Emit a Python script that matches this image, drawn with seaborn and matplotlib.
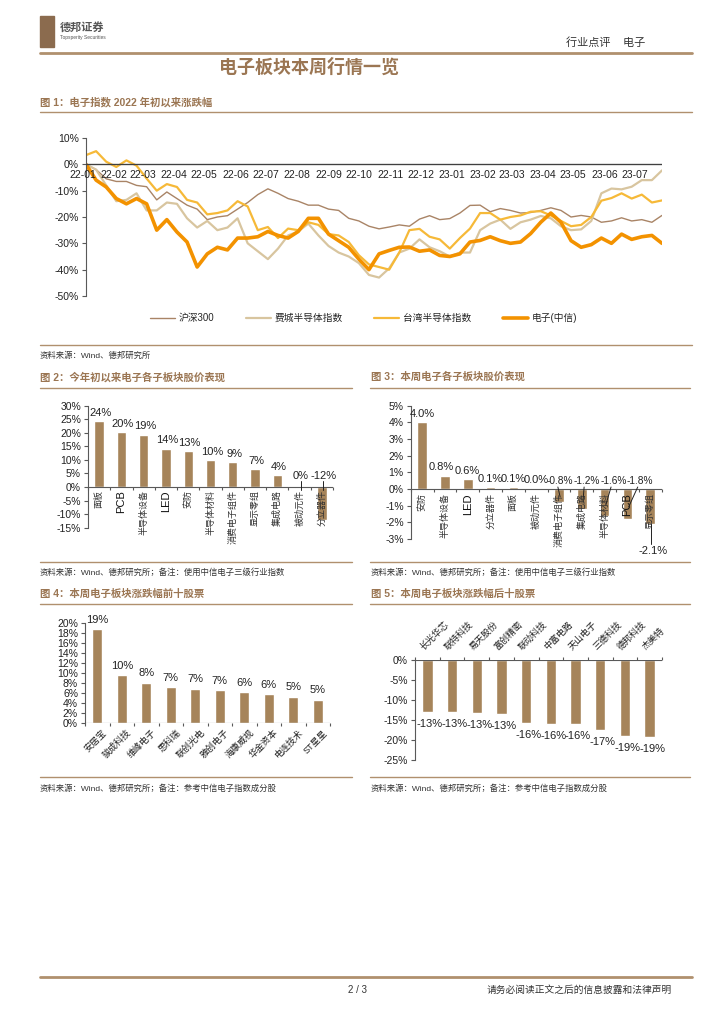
import numpy as np
import pandas as pd
import matplotlib
matplotlib.use("Agg")
import matplotlib.pyplot as plt
import seaborn as sns
from matplotlib.lines import Line2D
from matplotlib.patches import Rectangle

sns.set_theme(style="white")
plt.rcParams["font.family"] = ["Liberation Sans", "Noto Sans CJK SC"]
plt.rcParams["axes.unicode_minus"] = False

# ---------------- data ----------------
line_dates = pd.date_range("2022-01-04", periods=58, freq="10D")
month_ticks = pd.date_range("2022-01-01", "2023-07-01", freq="MS")
month_labels = [d.strftime("%y-%m") for d in month_ticks]

hs300 = [0, -2, -5.5, -6.5, -6.5, -8, -8.5, -13.5, -10.5, -13, -15.5, -17, -21, -20, -19.5,
         -17, -14.5, -11.5, -9.3, -11, -13, -14, -15.5, -15.5, -17, -17.5, -20.5, -21.5, -23.5, -24.5,
         -23.8, -23, -23.5, -20.8, -19.5, -21, -20.6, -18.5, -15.6, -15.5, -18, -16.8, -17.5, -18.5,
         -18.3, -17.5, -16.5, -17.5, -20, -19.4, -20, -22, -21.5, -20.3, -21.5, -21, -22, -19.4]
phlx = [0, -2, -8, -14, -13.5, -11, -17.5, -17.5, -14.5, -15, -20.5, -24, -21.5, -25, -24,
        -20.5, -30, -33, -36, -32, -27, -25.5, -22.5, -27, -31, -33.5, -35, -37.5, -42, -43,
        -39.5, -33.5, -32, -28.5, -31.5, -33, -35, -33.5, -33.5, -25, -22.5, -21, -24.5, -22,
        -21, -19.6, -20.5, -23.5, -25, -24.7, -21.5, -11, -9.2, -9.5, -8.5, -6, -6, -2.3]
twse = [3.5, 5, 1, -1, 1.5, -0.5, -5.4, -10, -7.5, -8.6, -13.5, -14.5, -19, -18.5, -17.5,
        -14, -16, -25, -23.8, -28, -24.4, -25, -22, -23, -26.5, -27, -29.5, -34.5, -38, -39,
        -40, -33.5, -25, -24.5, -27.5, -28.5, -32, -28, -24.4, -18.5, -18.5, -21, -20, -19.4,
        -18, -17.8, -19.4, -21.5, -23.5, -23, -20, -13.8, -12.8, -11, -13, -11.5, -14.5, -13.7]
elec = [0, -6, -8.6, -13, -15, -13, -15, -25, -21, -25.7, -29.5, -39, -34, -31.5, -32.5,
        -28, -28, -27.5, -25.5, -27, -28, -25.5, -20.5, -20.5, -26.5, -29, -31.5, -36, -40, -34,
        -32.7, -31.5, -31.4, -33, -32.5, -34.6, -35, -34, -29.5, -28.9, -27.5, -29, -30, -29.5,
        -26.3, -22, -18.5, -22, -29, -31.5, -30.5, -28, -30, -26.5, -28.5, -27.5, -27, -30]
line_names = ["沪深300", "费城半导体指数", "台湾半导体指数", "电子(中信)"]

cats2 = ["面板", "PCB", "半导体设备", "LED", "安防", "半导体材料", "消费电子组件",
         "显示零组", "集成电路", "被动元件", "分立器件"]
vals2 = [24.3, 20.2, 19.3, 14.2, 13.2, 9.9, 9.1, 6.6, 4.3, -0.3, -12.3]

cats3 = ["安防", "半导体设备", "LED", "分立器件", "面板", "被动元件", "消费电子组件",
         "集成电路", "半导体材料", "PCB", "显示零组"]
vals3 = [4.0, 0.8, 0.6, 0.1, 0.1, 0.04, -0.8, -1.2, -1.6, -1.8, -2.1]

cats4 = ["安居宝", "骏成科技", "维峰电子", "思科瑞", "联创光电", "雅创电子", "海康威视",
         "华金资本", "电连技术", "ST星星"]
vals4 = [18.8, 9.6, 8.1, 7.2, 6.9, 6.6, 6.2, 5.8, 5.3, 4.7]

cats5 = ["长光华芯", "联特科技", "易天股份", "富创精密", "联动科技", "中富电路", "天山电子",
         "三德科技", "德邦科技", "杰美特"]
vals5 = [-12.9, -13.0, -13.3, -13.4, -15.7, -15.9, -16.0, -17.4, -19.0, -19.3]

# ---------------- style ----------------
W, H = 724, 1024
BROWN = "#9B7653"
RULE = "#B0906E"
BAR = "#A6845A"
AX = "#595959"
C_HS, C_PH, C_TW, C_EL = "#A98466", "#D8C59F", "#F6B938", "#F39200"

fig = plt.figure(figsize=(W / 100, H / 100), dpi=100)
fig.patch.set_facecolor("white")


def frect(x0, y0, x1, y1):
    return [x0 / W, 1 - y1 / H, (x1 - x0) / W, (y1 - y0) / H]


def ftext(x, y, s, **kw):
    fig.text(x / W, 1 - y / H, s, **kw)


def fline(x0, x1, y, lw=1.0, color=RULE):
    fig.add_artist(Line2D([x0 / W, x1 / W], [1 - y / H, 1 - y / H], lw=lw, color=color,
                          transform=fig.transFigure))


# ---------------- page furniture ----------------
fig.add_artist(Rectangle((40 / W, 1 - 47 / H), 14 / W, 31 / H, color="#8B6B4E",
                         transform=fig.transFigure))
ftext(60, 27, "德邦证券", fontsize=8, fontweight="bold", color="#555555", va="center")
ftext(60, 38, "Topsperity Securities", fontsize=3.5, color="#555555", va="center")
ftext(566, 43, "行业点评    电子", fontsize=8, color="#333333", va="center")
fline(40, 692, 53, lw=2.0)
ftext(309, 68, "电子板块本周行情一览", fontsize=13, fontweight="bold", color=BROWN,
      ha="center", va="center")

ftext(40, 102, "图 1：电子指数 2022 年初以来涨跌幅", fontsize=7.5, fontweight="bold",
      color=BROWN, va="center")
fline(40, 692, 112, lw=1.0)
fline(40, 692, 345, lw=1.0)
ftext(40, 356, "资料来源：Wind、德邦研究所", fontsize=6, color="#333333", va="center")

ftext(40, 377, "图 2：今年初以来电子各子板块股价表现", fontsize=7.5, fontweight="bold",
      color=BROWN, va="center")
fline(40, 352, 388)
fline(40, 352, 562)
ftext(40, 573, "资料来源：Wind、德邦研究所；备注：使用中信电子三级行业指数", fontsize=6,
      color="#333333", va="center")

ftext(371, 377, "图 3：本周电子各子板块股价表现", fontsize=7.5, fontweight="bold",
      color=BROWN, va="center")
fline(370, 690, 388)
fline(370, 690, 562)
ftext(371, 573, "资料来源：Wind、德邦研究所；备注：使用中信电子三级行业指数", fontsize=6,
      color="#333333", va="center")

ftext(40, 594, "图 4：本周电子板块涨跌幅前十股票", fontsize=7.5, fontweight="bold",
      color=BROWN, va="center")
fline(40, 352, 604)
fline(40, 352, 777)
ftext(40, 789, "资料来源：Wind、德邦研究所；备注：参考中信电子指数成分股", fontsize=6,
      color="#333333", va="center")

ftext(371, 594, "图 5：本周电子板块涨跌幅后十股票", fontsize=7.5, fontweight="bold",
      color=BROWN, va="center")
fline(370, 690, 604)
fline(370, 690, 777)
ftext(371, 789, "资料来源：Wind、德邦研究所；备注：参考中信电子指数成分股", fontsize=6,
      color="#333333", va="center")

fline(40, 692, 977, lw=2.0)
ftext(357, 990, "2 / 3", fontsize=7, color="#333333", ha="center", va="center")
ftext(672, 990, "请务必阅读正文之后的信息披露和法律声明", fontsize=7, color="#333333",
      ha="right", va="center")


# ---------------- helpers ----------------
def base_axes(ax, ylim, yticks):
    ax.set_ylim(*ylim)
    ax.set_yticks(yticks)
    ax.set_yticklabels([f"{t:g}%" for t in yticks], fontsize=7.5, color="#222222")
    for s in ["top", "right", "bottom"]:
        ax.spines[s].set_visible(False)
    ax.spines["left"].set_color(AX)
    ax.spines["left"].set_linewidth(0.8)
    ax.tick_params(axis="y", left=True, length=3, width=0.8, color=AX, pad=2)
    ax.tick_params(axis="x", bottom=False, labelbottom=False)
    ax.set_xlabel("")
    ax.set_ylabel("")
    ax.grid(False)
    ax.set_facecolor("none")
    ax.axhline(0, color=AX, lw=0.8, zorder=3)


# ---------------- Fig 1: lines ----------------
ax1 = fig.add_axes(frect(86, 138, 662, 296))
series = [(hs300, C_HS, 1.0), (phlx, C_PH, 1.6), (twse, C_TW, 1.6), (elec, C_EL, 2.6)]
for (vals, col, lw), name in zip(series, line_names):
    sns.lineplot(x=line_dates, y=vals, ax=ax1, color=col, linewidth=lw, label=name, legend=False)
ax1.set_xlim(line_dates[0], line_dates[-1])
base_axes(ax1, (-50, 10), list(range(-50, 11, 10)))
ax1.axhline(0, color="#404040", lw=0.9, zorder=3)
for d, lab in zip(month_ticks, month_labels):
    ax1.annotate(lab, (d, 0), xytext=(0, -4), textcoords="offset points", ha="center",
                 va="top", fontsize=7.5, color="#222222", annotation_clip=False)
handles = [Line2D([], [], color=c, lw=lw) for (_, c, lw) in series]
fig.legend(handles, line_names, loc="center", bbox_to_anchor=(0.502, 1 - 318 / H), ncol=4,
           frameon=False, fontsize=7, handlelength=2.6, columnspacing=3.2, handletextpad=0.4)


def bar_axes(rect, cats, vals, ylim, yticks, px_h):
    ax = fig.add_axes(rect)
    sns.barplot(x=cats, y=vals, color=BAR, saturation=1, width=0.42, ax=ax, zorder=2)
    n = len(cats)
    ax.set_xlim(-0.5, n - 0.5)
    base_axes(ax, ylim, yticks)
    unit = (ylim[1] - ylim[0]) / px_h  # data units per pixel
    return ax, unit


# ---------------- Fig 2 ----------------
ax2, u2 = bar_axes(frect(88, 405.7, 333, 527.7), cats2, vals2, (-15, 30),
                   list(range(-15, 31, 5)), 122)
n2 = len(cats2)
ax2.vlines(np.arange(n2 + 1) - 0.5, -3 * u2, 0, color=AX, lw=0.8, clip_on=False, zorder=3)
for i, (c, v) in enumerate(zip(cats2, vals2)):
    latin = c.isascii()
    ax2.text(i, -3 * u2, c, rotation=90, ha="center", va="top",
             fontsize=8 if latin else 6.5, color="#111111" if latin else "#333333", zorder=4)
    ax2.annotate(f"{round(v):d}%", (i, max(v, 0)), xytext=(1, 4 if v < 0 else 2.5),
                 textcoords="offset points", ha="center", va="bottom", fontsize=8,
                 color="#222222", annotation_clip=False)
    if v < 0:
        ax2.plot([i + 0.05, i + 0.05], [6 * u2, -3 * u2], color="#222222", lw=0.7, zorder=4)

# ---------------- Fig 3 ----------------
ax3, u3 = bar_axes(frect(410.7, 405.7, 661.7, 539), cats3, vals3, (-3, 5),
                   list(range(-3, 6, 1)), 133.3)
n3 = len(cats3)
label_dx3 = [0, -0.15, 0, 0, 0, 0, 0.05, 0.2, 0.38, 0.55, 0]
label_below3 = [False] * 10 + [True]
ax3.vlines(np.arange(n3 + 1) - 0.5, -3 * u3, 0, color=AX, lw=0.8, clip_on=False, zorder=3)
for i, (c, v) in enumerate(zip(cats3, vals3)):
    latin = c.isascii()
    ax3.text(i, -4 * u3, c, rotation=90, ha="center", va="top",
             fontsize=8 if latin else 6.5, color="#111111" if latin else "#333333", zorder=4)
    lab = f"{v:.1f}%"
    if label_below3[i]:
        ax3.annotate(lab, (i + 0.1, v), xytext=(0, -16), textcoords="offset points",
                     ha="center", va="top", fontsize=8, color="#222222", annotation_clip=False)
        ax3.plot([i + 0.05, i + 0.05], [v, v - 20 * u3], color="#222222", lw=0.7,
                 clip_on=False, zorder=4)
    else:
        fs = 8 if v >= 0 else 7.3
        ax3.annotate(lab, (i + label_dx3[i], max(v, 0)), xytext=(0, 2.5),
                     textcoords="offset points", ha="center", va="bottom", fontsize=fs,
                     color="#222222", annotation_clip=False)
        if v < 0:
            ax3.plot([i + label_dx3[i] - 0.1, i + 0.05], [2 * u3, max(v * 0.6, v + 0.3)],
                     color="#222222", lw=0.7, zorder=4)

# ---------------- Fig 4 ----------------
ax4, u4 = bar_axes(frect(85, 623, 330, 723), cats4, vals4, (0, 20), list(range(0, 21, 2)), 100)
n4 = len(cats4)
ax4.vlines(np.arange(n4 + 1) - 0.5, -3 * u4, 0, color=AX, lw=0.8, clip_on=False, zorder=3)
for i, (c, v) in enumerate(zip(cats4, vals4)):
    ax4.text(i + 0.2, -5 * u4, c, rotation=45, ha="right", va="top", rotation_mode="anchor",
             fontsize=6.5, color="#222222")
    ax4.annotate(f"{round(v):d}%", (i, v), xytext=(0, 3), textcoords="offset points",
                 ha="center", va="bottom", fontsize=8, color="#222222", annotation_clip=False)

# ---------------- Fig 5 ----------------
ax5, u5 = bar_axes(frect(415, 660, 662, 760), cats5, vals5, (-25, 0), list(range(-25, 1, 5)), 100)
n5 = len(cats5)
ax5.vlines(np.arange(n5 + 1) - 0.5, 0, 3 * u5, color=AX, lw=0.8, clip_on=False, zorder=3)
for i, (c, v) in enumerate(zip(cats5, vals5)):
    ax5.text(i - 0.1, 8 * u5, c, rotation=45, ha="left", va="bottom", rotation_mode="anchor",
             fontsize=6.5, color="#222222")
    ax5.annotate(f"{round(v):d}%", (i + 0.1, v), xytext=(0, -5), textcoords="offset points",
                 ha="center", va="top", fontsize=8, color="#222222", annotation_clip=False)

fig.savefig("out.png", dpi=100, facecolor="white")
